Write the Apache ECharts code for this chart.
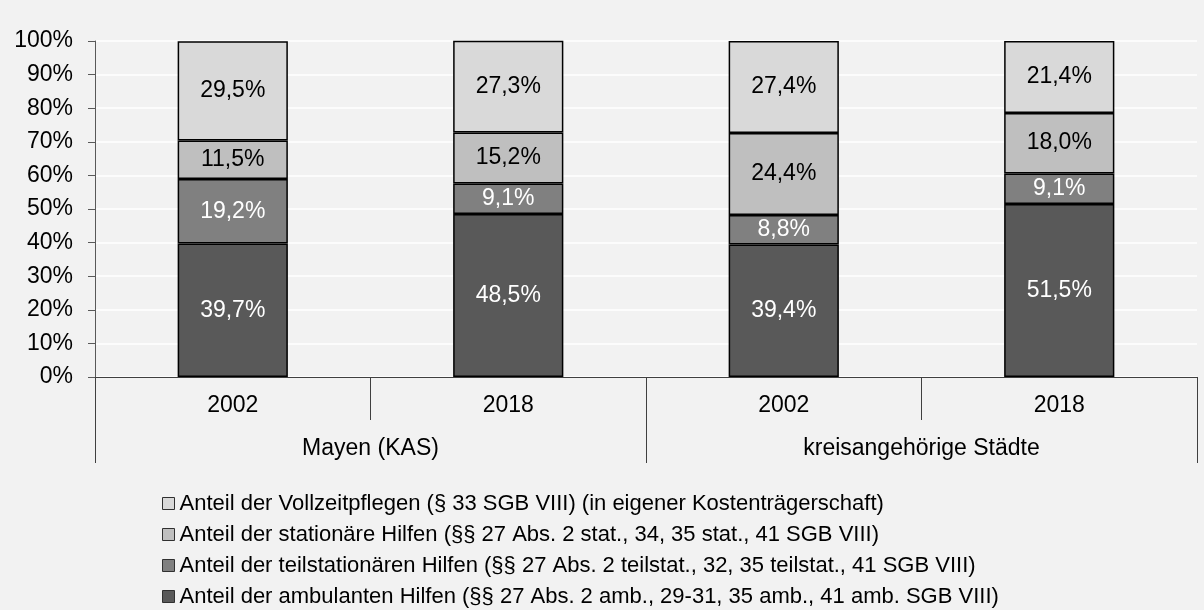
<!DOCTYPE html>
<html>
<head>
<meta charset="utf-8">
<script src="https://cdn.jsdelivr.net/npm/echarts@6/dist/echarts.min.js"></script>
<style>
html,body{margin:0;padding:0;background:#f2f2f2;}
#c{width:1204px;height:610px;}
</style>
</head>
<body>
<div id="c"></div>
<script>
const years = ['2002', '2018', '2002', '2018'];
const groups = ['Mayen (KAS)', 'kreisangehörige Städte'];
const yTicks = [0, 10, 20, 30, 40, 50, 60, 70, 80, 90, 100];

const seriesNames = [
  'Anteil der ambulanten Hilfen (§§ 27 Abs. 2 amb., 29-31, 35 amb., 41 amb. SGB VIII)',
  'Anteil der teilstationären Hilfen (§§ 27 Abs. 2 teilstat., 32, 35 teilstat., 41 SGB VIII)',
  'Anteil der stationäre Hilfen (§§ 27 Abs. 2 stat., 34, 35 stat., 41 SGB VIII)',
  'Anteil der Vollzeitpflegen (§ 33 SGB VIII) (in eigener Kostenträgerschaft)'
];
const ambulant = [39.7, 48.5, 39.4, 51.5];
const teilstationaer = [19.2, 9.1, 8.8, 9.1];
const stationaer = [11.5, 15.2, 24.4, 18.0];
const vollzeit = [29.5, 27.3, 27.4, 21.4];

const seriesValues = [ambulant, teilstationaer, stationaer, vollzeit];
const colors = ['#595959', '#808080', '#bfbfbf', '#d9d9d9'];
const labelColors = ['#ffffff', '#ffffff', '#000000', '#000000'];

const FONT = 'Liberation Sans, Arial, sans-serif';
const FS = 23;

const fmt = v => v.toFixed(1).replace('.', ',') + '%';

const chart = echarts.init(document.getElementById('c'));
chart.setOption({
  backgroundColor: '#f2f2f2',
  animation: false,
  textStyle: { fontFamily: FONT },
  grid: { left: 95, right: 7, top: 41, bottom: 233, containLabel: false },
  legend: {
    orient: 'vertical',
    left: 162,
    top: 492,
    height: 130,
    padding: 0,
    itemWidth: 12,
    itemHeight: 12,
    itemGap: 8,
    icon: 'rect',
    data: seriesNames.slice().reverse(),
    textStyle: { fontSize: 22, lineHeight: 23, color: '#000', fontFamily: FONT },
    itemStyle: { borderColor: '#303030', borderWidth: 1 }
  },
  xAxis: [
    {
      type: 'category',
      data: years,
      position: 'bottom',
      axisLine: { show: true, lineStyle: { color: '#404040', width: 1 } },
      axisTick: { show: true, interval: 0, length: 43, lineStyle: { color: '#404040', width: 1 } },
      axisLabel: { fontSize: FS, color: '#000', margin: 17, fontFamily: FONT, interval: 0 },
      splitLine: { show: false }
    },
    {
      type: 'category',
      data: groups,
      position: 'bottom',
      axisLine: { show: false },
      axisTick: { show: true, interval: 0, length: 86, lineStyle: { color: '#404040', width: 1 } },
      axisLabel: { fontSize: FS, color: '#000', margin: 60, fontFamily: FONT, interval: 0 },
      splitLine: { show: false }
    }
  ],
  yAxis: {
    type: 'value',
    min: 0,
    max: 100,
    interval: 10,
    axisLine: { show: true, lineStyle: { color: '#595959', width: 1 } },
    axisTick: { show: true, length: 7, lineStyle: { color: '#595959' } },
    axisLabel: { fontSize: FS, color: '#000', margin: 22, fontFamily: FONT, formatter: v => v + '%' },
    splitLine: { show: true, lineStyle: { color: '#ffffff', width: 1.5 } }
  },
  series: seriesValues.map((vals, i) => ({
    name: seriesNames[i],
    type: 'bar',
    stack: 'total',
    xAxisIndex: 0,
    barWidth: '40%',
    data: vals,
    itemStyle: { color: colors[i], borderColor: '#000', borderWidth: 1.5 },
    label: {
      show: true,
      position: 'inside',
      color: labelColors[i],
      fontSize: FS,
      fontFamily: FONT,
      formatter: p => fmt(p.value)
    }
  }))
});
</script>
</body>
</html>
